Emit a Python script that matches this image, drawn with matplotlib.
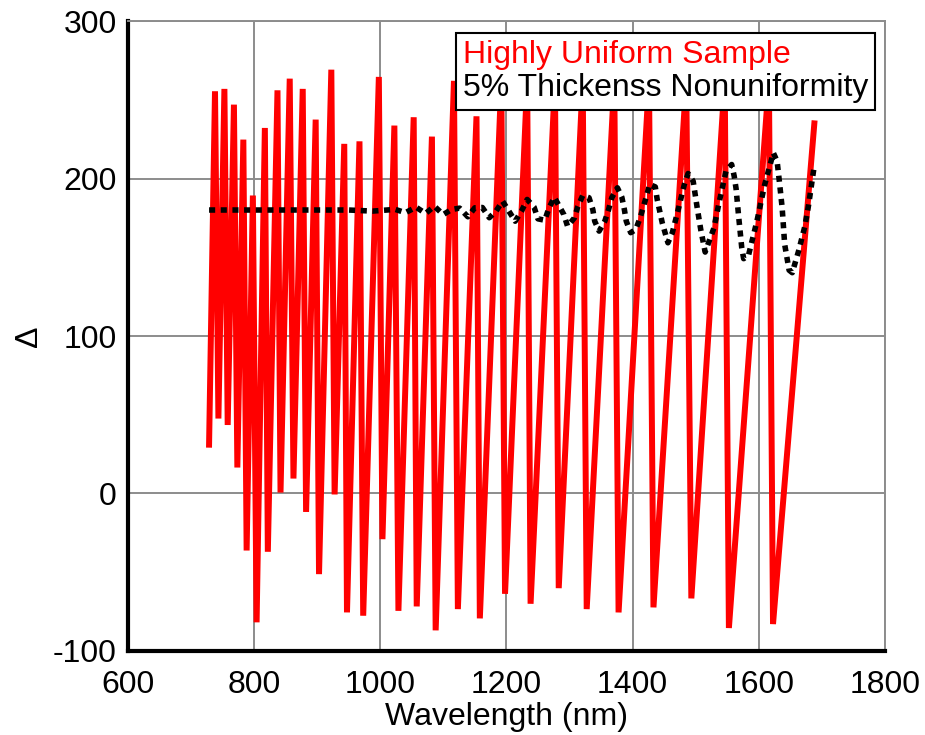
import matplotlib
matplotlib.use("Agg")
import matplotlib.pyplot as plt

plt.rcParams['font.family'] = ['Liberation Sans', 'DejaVu Sans']
plt.rcParams['axes.unicode_minus'] = False

# Highly uniform sample: vertices of the red trace (wavelength nm, Delta deg)
red_wl = [729, 738.4, 743.8, 753.3, 758.5, 768.4, 773.8, 783.3, 788.5, 798.4,
          804.3, 817.4, 822.1, 837.4, 842.2, 856.8, 862.7, 877.4, 882.7, 897.9,
          903.2, 922.7, 927.9, 943.2, 947.5, 967.3, 973.2, 998.0, 1003.7, 1022.6,
          1029.0, 1053.2, 1058.0, 1082.1, 1088.0, 1117.0, 1123.2, 1152.7, 1158.0, 1192.0,
          1197.9, 1233.0, 1238.4, 1277.0, 1283.0, 1321.0, 1327.3, 1371.0, 1377.8, 1426.0,
          1433.1, 1485.0, 1493.1, 1546.0, 1552.6, 1616.0, 1622.5, 1688.0]
red_delta = [31, 255.4, 47.6, 256.9, 43.5, 246.9, 16.5, 224.7, -36.2, 189.2,
             -81.8, 232.1, -37.0, 256.0, 0.6, 263.4, 9.5, 256.9, -11.7, 237.4,
             -51.2, 269.1, -0.6, 222.0, -75.5, 223.6, -77.6, 264.5, -29.0, 233.6,
             -74.5, 238.9, -71.7, 226.6, -86.9, 262, -73.4, 239.5, -79.3, 262,
             -63.7, 262, -70.0, 262, -60.1, 262, -73.4, 262, -75.5, 262,
             -72.3, 262, -66.6, 262, -85.4, 262, -82.9, 235.0]

# 5% thickness nonuniformity: black dotted trace
blk_wl = [729, 760, 800, 850, 900, 950, 988, 1024, 1040, 1057, 1072, 1086, 1100,
          1113, 1126, 1139, 1150, 1162, 1173, 1184, 1194, 1204, 1214, 1224, 1233,
          1244, 1250, 1261, 1267, 1276, 1291, 1297, 1308, 1313, 1321, 1331, 1337,
          1340, 1347, 1356, 1362, 1367, 1376, 1383, 1387, 1390, 1397, 1405, 1412,
          1422, 1427, 1436, 1439, 1443, 1447, 1456, 1463, 1473, 1482, 1488, 1496,
          1502, 1508, 1515, 1529, 1537, 1548, 1557, 1561, 1564, 1568, 1573, 1576,
          1584, 1597, 1609, 1623, 1629, 1633, 1637, 1641, 1648, 1653, 1663, 1673,
          1679, 1687]
blk_delta = [180, 180, 180, 180, 180, 180, 179.3, 180.4, 178.3, 181.8, 177.8, 182.4, 177.1,
             180.3, 181.2, 175.7, 181.4, 181.6, 175.1, 179.5, 185.6, 179.3, 172.9, 179.3, 186.7,
             181.8, 174.4, 173.5, 180.8, 188.1, 177.2, 169.7, 175.1, 182.0, 189.2, 187.8, 180.3,
             172.9, 166.6, 172.9, 180.3, 187.8, 194.1, 188.1, 180.3, 172.9, 165.6, 167.6, 175.1,
             188.8, 196.2, 194.7, 186.7, 179.3, 171.9, 159.2, 165.6, 181.4, 196.2, 203.2, 198.3,
             182.4, 167.6, 153.3, 168.7, 184.6, 204.6, 208.9, 201.5, 193.5, 176.1, 156.0, 149.1,
             151.8, 172.9, 195.6, 216.3, 211.0, 196.6, 181.4, 158.1, 141.8, 140.2, 153.9, 169.7,
             183.5, 205.7]

x_ticks = [600, 800, 1000, 1200, 1400, 1600, 1800]
y_ticks = [-100, 0, 100, 200, 300]
legend_labels = ["Highly Uniform Sample", "5% Thickenss Nonuniformity"]

FS = 23

fig = plt.figure(figsize=(9.25, 7.35), dpi=100)
ax = fig.add_axes([0.138, 0.1143, 0.8188, 0.8571])

l1, = ax.plot(red_wl, red_delta, color='#ff0000', lw=4.3, solid_joinstyle='bevel',
              label=legend_labels[0], zorder=3)
l2, = ax.plot(blk_wl, blk_delta, color='black', lw=4.0, dashes=(1.1, 1.0),
              dash_capstyle='butt', label=legend_labels[1], zorder=4)

ax.set_xlim(600, 1800)
ax.set_ylim(-100, 300)
ax.set_xticks(x_ticks)
ax.set_yticks(y_ticks)
ax.grid(True, color='#8c8c8c', lw=1.4, zorder=1)
ax.set_axisbelow(True)
ax.tick_params(length=0, labelsize=FS)
ax.tick_params(axis='y', pad=8)
ax.tick_params(axis='x', pad=14)
for s in ['left', 'bottom']:
    ax.spines[s].set_linewidth(3)
    ax.spines[s].set_color('black')
for s in ['top', 'right']:
    ax.spines[s].set_linewidth(1.4)
    ax.spines[s].set_color('#8c8c8c')

ax.set_xlabel("Wavelength (nm)", fontsize=FS, labelpad=1)
ax.set_ylabel("Δ", fontsize=FS, labelpad=6)

leg = ax.legend(handles=[l1, l2], loc='upper right', bbox_to_anchor=(0.9868, 0.9810),
                borderaxespad=0, fontsize=FS, handlelength=0, handletextpad=0,
                labelspacing=0.1, borderpad=0.22, fancybox=False, framealpha=1,
                edgecolor='black')
leg.get_frame().set_linewidth(1.5)
leg.set_zorder(10)
for h in leg.legend_handles:
    h.set_visible(False)
for t, c in zip(leg.get_texts(), ['#ff0000', 'black']):
    t.set_color(c)

fig.savefig("out.png", dpi=100)
